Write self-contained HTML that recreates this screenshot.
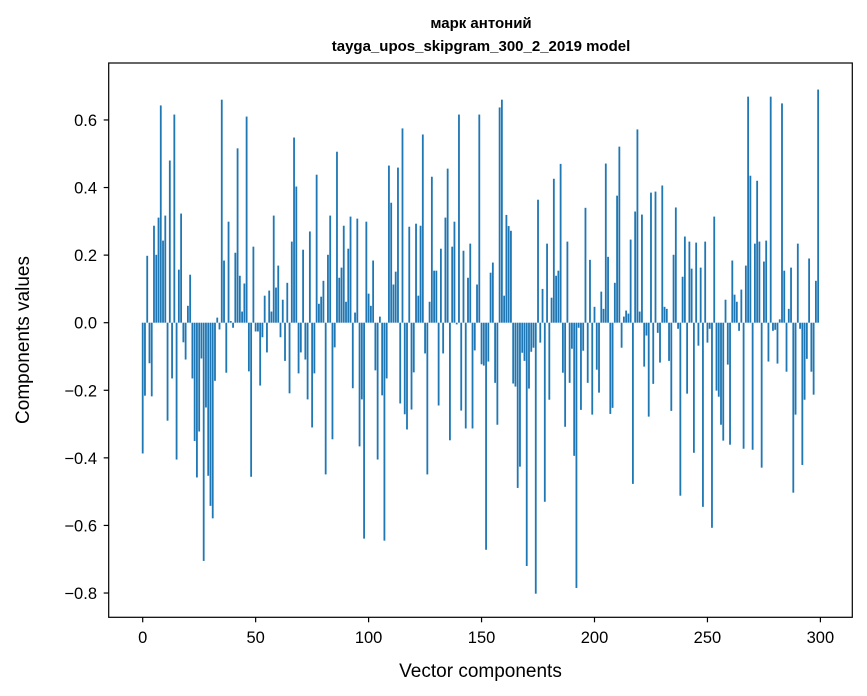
<!DOCTYPE html>
<html><head><meta charset="utf-8"><style>
body{margin:0;background:#fff;}
svg{display:block;font-family:"Liberation Sans","DejaVu Sans",sans-serif;}
</style></head><body>
<svg id="chart" width="867" height="696" viewBox="0 0 867 696" xmlns="http://www.w3.org/2000/svg">
<text x="481" y="28" text-anchor="middle" font-size="15" font-weight="bold">марк антоний</text>
<text x="481" y="51" text-anchor="middle" font-size="15" font-weight="bold">tayga_upos_skipgram_300_2_2019 model</text>
<g id="bars"></g>
<g id="axes"></g>
<rect x="108.7" y="63" width="743.6" height="554.3" fill="none" stroke="#000" stroke-width="1.2"/>
<text x="480.5" y="677" text-anchor="middle" font-size="19">Vector components</text>
<text transform="translate(29,340) rotate(-90)" text-anchor="middle" font-size="19">Components values</text>
</svg>
<script>
const values = [
-0.387,-0.216,0.198,-0.12,-0.218,0.287,0.201,0.311,0.643,0.243,
0.317,-0.29,0.48,-0.165,0.616,-0.405,0.157,0.323,-0.058,-0.109,
0.05,0.142,-0.165,-0.35,-0.458,-0.322,-0.106,-0.705,-0.251,-0.453,
-0.542,-0.579,-0.172,0.015,-0.02,0.66,0.184,-0.148,0.299,0.005,
-0.015,0.207,0.516,0.139,0.033,0.116,0.61,-0.144,-0.456,0.225,
-0.026,
-0.026,-0.186,-0.043,0.08,-0.088,0.095,0.033,0.317,0.104,0.169,-0.043,0.068,-0.113,0.118,-0.209,0.24,0.548,0.403,-0.15,-0.088,0.216,-0.109,-0.227,0.27,-0.31,-0.15,0.438,0.056,0.077,0.124,-0.449,0.201,0.317,-0.345,-0.073,0.506,0.133,0.163,0.287,0.062,0.219,0.314,-0.194,0.03,0.308,-0.366,-0.227,-0.639,0.299,0.086,
0.05,0.184,-0.141,-0.405,0.018,-0.215,-0.645,-0.165,0.465,0.355,0.113,0.151,0.459,-0.239,0.575,-0.271,-0.316,0.284,-0.257,-0.147,0.293,0.08,0.287,0.557,-0.091,-0.449,0.062,0.432,0.154,0.154,-0.245,0.219,-0.091,0.311,0.456,-0.348,0.225,0.299,-0.005,0.616,-0.26,0.213,-0.313,0.133,0.234,-0.313,-0.082,0.113,0.616,-0.123,
-0.127,-0.672,-0.115,0.148,0.178,-0.178,-0.302,0.637,0.66,0.08,0.319,0.286,0.272,-0.18,-0.189,-0.489,-0.426,-0.089,-0.113,-0.72,-0.195,-0.086,-0.074,-0.802,0.364,-0.059,0.1,-0.53,0.234,-0.228,0.074,0.426,0.139,0.154,0.47,-0.148,-0.308,0.24,-0.178,-0.077,-0.394,-0.785,-0.015,-0.258,-0.083,0.34,-0.178,0.186,-0.272,0.047,
-0.139,-0.207,0.092,0.041,0.471,0.195,-0.27,-0.252,0.118,0.376,0.521,-0.074,0.018,0.036,0.027,0.246,-0.477,0.329,0.572,0.033,0.32,-0.13,-0.038,-0.278,0.385,-0.181,0.388,-0.03,-0.118,0.406,0.047,0.041,-0.113,-0.261,0.201,0.341,-0.018,-0.512,0.136,
0.255,-0.21,0.24,0.16,-0.385,0.237,-0.068,0.163,-0.545,0.24,
-0.059,-0.018,-0.607,0.314,-0.201,-0.219,-0.302,-0.349,0.068,-0.124,-0.361,0.184,0.083,0.062,-0.024,0.098,-0.373,0.169,0.669,0.435,-0.376,0.234,0.42,0.24,-0.429,0.181,0.243,-0.115,0.669,-0.024,-0.021,-0.121,0.01,
0.649,0.154,-0.145,0.041,0.163,-0.503,-0.272,0.234,-0.018,-0.421,-0.228,-0.107,0.19,-0.145,-0.213,0.124,0.69
];
const yTicks = [-0.8,-0.6,-0.4,-0.2,0.0,0.2,0.4,0.6];
const yTickLabels = ["\u22120.8","\u22120.6","\u22120.4","\u22120.2","0.0","0.2","0.4","0.6"];
const xTicks = [0,50,100,150,200,250,300];
const xTickLabels = ["0","50","100","150","200","250","300"];

const NS = "http://www.w3.org/2000/svg";
const xS = v => 142.7 + v * 2.259;
const yS = v => 322.7 - v * 337.9;
const bw = 0.8 * 2.259;
const gb = document.getElementById('bars');
values.forEach((v, i) => {
  const r = document.createElementNS(NS, 'rect');
  
  
  const y0 = yS(0), y1 = yS(v);
  r.setAttribute('x', xS(i) - bw / 2);
  r.setAttribute('y', Math.min(y0, y1));
  r.setAttribute('width', bw);
  r.setAttribute('height', Math.max(Math.abs(y1 - y0), 0.01));
  r.setAttribute('fill', '#1f77b4');
  gb.appendChild(r);
});
const ga = document.getElementById('axes');
yTicks.forEach((t, i) => {
  const y = yS(t);
  const l = document.createElementNS(NS, 'line');
  
  
  l.setAttribute('x1', 103.7); l.setAttribute('x2', 108.7);
  l.setAttribute('y1', y); l.setAttribute('y2', y);
  l.setAttribute('stroke', '#000'); l.setAttribute('stroke-width', '1.2');
  ga.appendChild(l);
  const tx = document.createElementNS(NS, 'text');
  
  
  tx.setAttribute('x', 97); tx.setAttribute('y', y + 6);
  tx.setAttribute('text-anchor', 'end'); tx.setAttribute('font-size', '16.5');
  tx.textContent = yTickLabels[i];
  ga.appendChild(tx);
});
xTicks.forEach((t, i) => {
  const x = xS(t);
  const l = document.createElementNS(NS, 'line');
  
  
  l.setAttribute('x1', x); l.setAttribute('x2', x);
  l.setAttribute('y1', 617.3); l.setAttribute('y2', 622.3);
  l.setAttribute('stroke', '#000'); l.setAttribute('stroke-width', '1.2');
  ga.appendChild(l);
  const tx = document.createElementNS(NS, 'text');
  
  
  tx.setAttribute('x', x); tx.setAttribute('y', 643);
  tx.setAttribute('text-anchor', 'middle'); tx.setAttribute('font-size', '16.5');
  tx.textContent = xTickLabels[i];
  ga.appendChild(tx);
});
</script>
</body></html>
